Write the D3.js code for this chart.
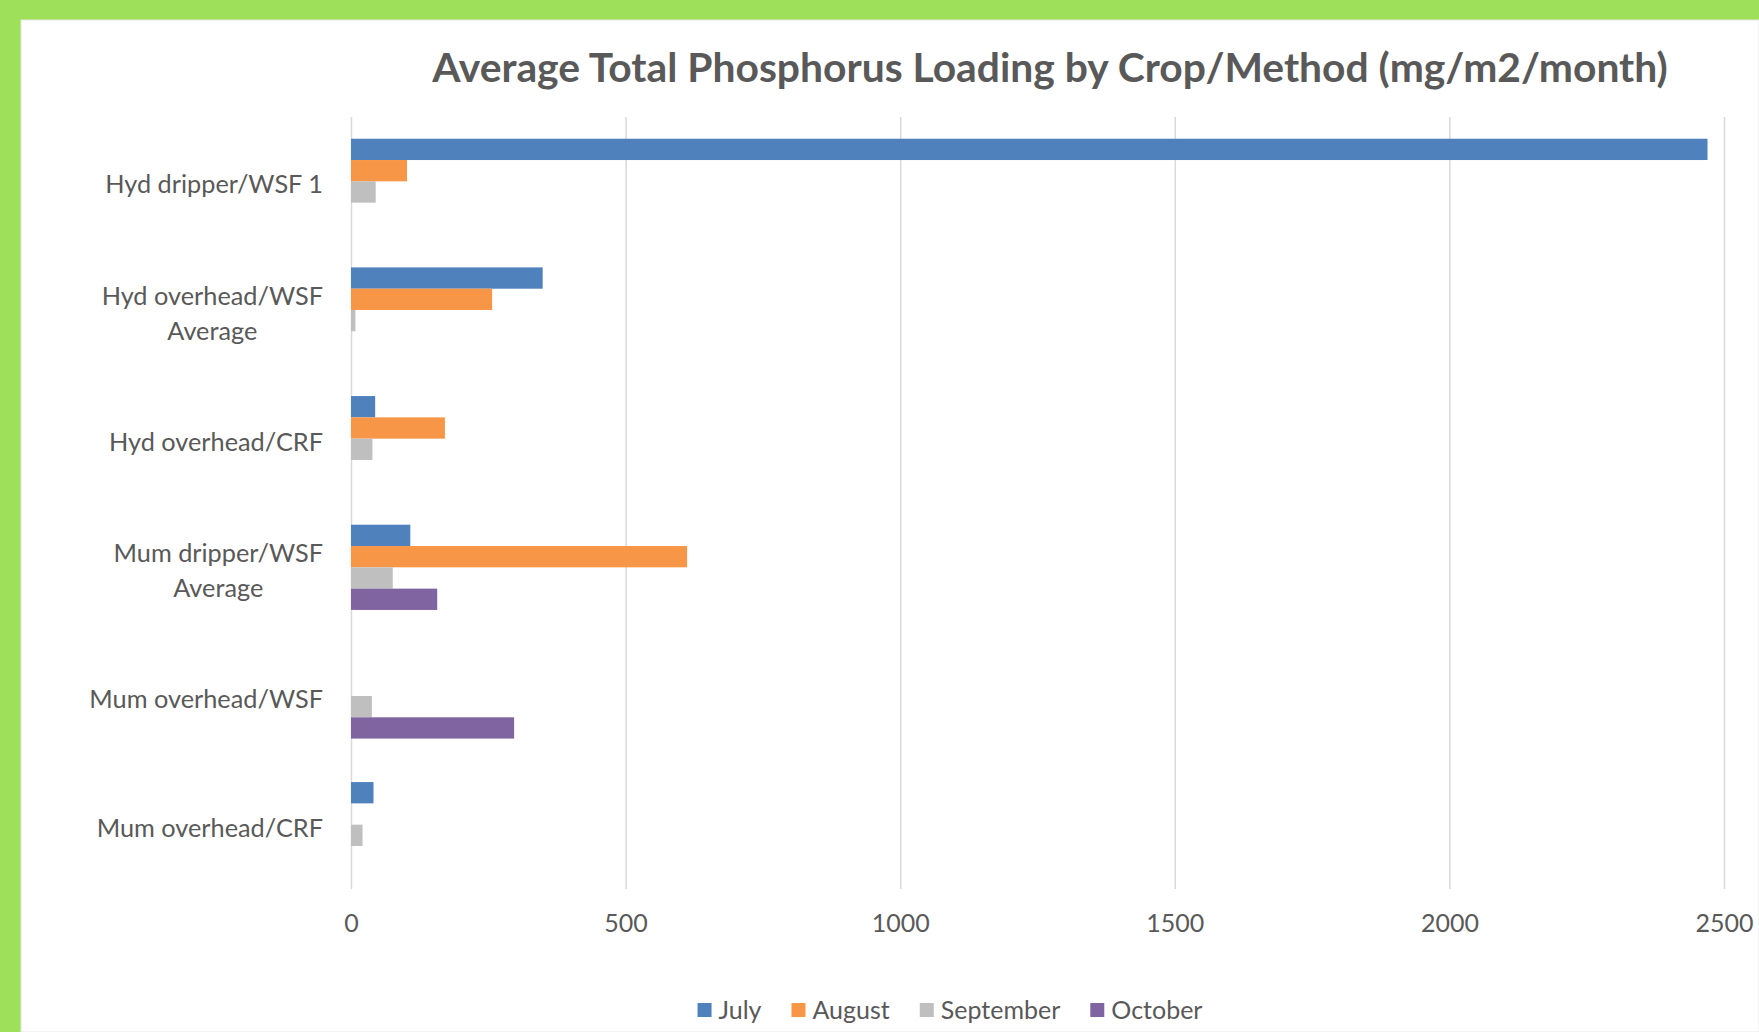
<!DOCTYPE html>
<html>
<head>
<meta charset="utf-8">
<script src="https://cdn.jsdelivr.net/npm/d3@7"></script>
<style>
  html, body { margin: 0; padding: 0; background: #9fe05a; }
  svg { display: block; }
  text { font-family: Lato, "Open Sans", sans-serif; }
</style>
</head>
<body>
<svg id="chart" width="1759" height="1032"></svg>
<script>
const title = "Average Total Phosphorus Loading by Crop/Method (mg/m2/month)";
const categories = [
  "Hyd dripper/WSF 1",
  "Hyd overhead/WSF\nAverage",
  "Hyd overhead/CRF",
  "Mum dripper/WSF\nAverage",
  "Mum overhead/WSF",
  "Mum overhead/CRF"
];
const series = ["July", "August", "September", "October"];
const july      = [2470, 349, 44, 108, 0, 41];
const august    = [102, 257, 171, 612, 0, 0];
const september = [45, 8, 39, 76, 38, 21];
const october   = [0, 0, 0, 157, 297, 0];
const xTicks = [0, 500, 1000, 1500, 2000, 2500];
const colors = ["#4f81bd", "#f79646", "#bfbfbf", "#8064a2"];

const values = [july, august, september, october];
const rows = [];
categories.forEach((c, i) => series.forEach((s, j) => rows.push({ cat: c, series: s, value: values[j][i], color: colors[j] })));

const svg = d3.select("#chart");
// white panel
svg.append("rect").attr("x", 21).attr("y", 20).attr("width", 1759 - 21).attr("height", 1032 - 20)
  .attr("fill", "#ffffff").attr("stroke", "#e6e6e6").attr("stroke-width", 1);

const plotTop = 117, plotBottom = 889, plotLeft = 351, plotRight = 1724;
const x = d3.scaleLinear().domain([0, 2500]).range([plotLeft, plotRight]);
const y0 = d3.scaleBand().domain(categories).range([plotTop, plotBottom]);
const y1 = d3.scaleBand().domain(series).range([0, y0.bandwidth()]).paddingOuter(1.02).paddingInner(0);

// gridlines + tick labels
const axis = d3.axisBottom(x).tickValues(xTicks).tickSize(-(plotBottom - plotTop)).tickPadding(25).tickFormat(d3.format("d"));
const gx = svg.append("g").attr("transform", `translate(0,${plotBottom})`).call(axis);
gx.select(".domain").remove();
gx.selectAll(".tick line").attr("stroke", "#d9d9d9").attr("stroke-width", 1.5);
gx.selectAll(".tick text").attr("fill", "#595959").style("font-size", "25px").style("font-family", "Lato, sans-serif");

// bars
svg.append("g").selectAll("rect").data(rows).join("rect")
  .attr("x", x(0))
  .attr("y", d => y0(d.cat) + y1(d.series))
  .attr("width", d => x(d.value) - x(0))
  .attr("height", y1.bandwidth())
  .attr("fill", d => d.color);

// category labels
const labelRight = 323;
const lg = svg.append("g");
categories.forEach(c => {
  const lines = c.split("\n");
  const cy = y0(c) + y0.bandwidth() / 2;
  const lh = 35;
  const g = lg.append("g");
  const texts = lines.map((ln, k) => g.append("text")
    .attr("y", cy + 12 + (k - (lines.length - 1) / 2) * lh)
    .attr("fill", "#595959").style("font-size", "25.3px").text(ln));
  const widths = texts.map(t => t.node().getComputedTextLength());
  const maxW = d3.max(widths);
  texts.forEach(t => t.attr("x", labelRight - maxW / 2).attr("text-anchor", "middle"));
});

// title
svg.append("text").attr("x", 1050).attr("y", 82).attr("text-anchor", "middle")
  .attr("fill", "#595959").style("font-size", "40.8px").style("font-weight", "bold").text(title);

// legend
const leg = svg.append("g");
const sw = 14, gapT = 7, gapItem = 30, legY = 1019, legCenter = 950;
const items = series.map((s, j) => {
  const g = leg.append("g");
  g.append("rect").attr("y", legY - 16).attr("width", sw).attr("height", sw).attr("fill", colors[j]);
  const t = g.append("text").attr("x", sw + gapT).attr("y", legY).attr("fill", "#595959").style("font-size", "25px").text(s);
  return { g, w: sw + gapT + t.node().getComputedTextLength() };
});
const total = d3.sum(items, d => d.w) + gapItem * (items.length - 1);
let cx = legCenter - total / 2;
items.forEach(it => { it.g.attr("transform", `translate(${cx},0)`); cx += it.w + gapItem; });
</script>
</body>
</html>
